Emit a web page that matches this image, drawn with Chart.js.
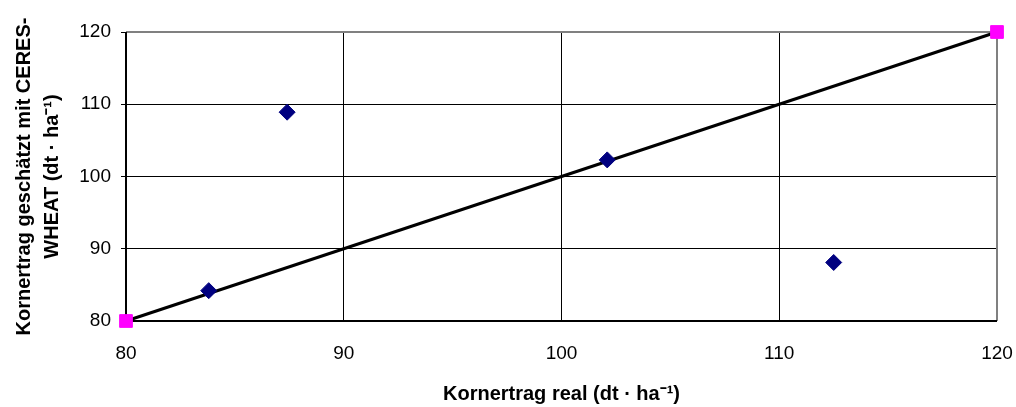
<!DOCTYPE html>
<html>
<head>
<meta charset="utf-8">
<script src="https://cdn.jsdelivr.net/npm/chart.js@4/dist/chart.umd.min.js"></script>
<style>
  html, body { margin: 0; padding: 0; background: #fff; }
  #wrap { width: 1016px; height: 407px; }
</style>
</head>
<body>
<div id="wrap"><canvas id="chart" width="1016" height="407"></canvas></div>
<script>
// Messwerte: real vs. CERES-WHEAT
const realYield = [83.8, 87.4, 102.1, 112.5];
const simYield = [84.2, 108.9, 102.3, 88.1];

// 1:1 Linie
const lineX = [80, 120];
const lineY = [80, 120];

const axisMin = 80;
const axisMax = 120;
const axisStep = 10;

const fontFamily = "'Liberation Sans', Arial, sans-serif";

// Rahmen: oben/rechts grau, links/unten schwarz
const frame = {
    id: 'frame',
    beforeDatasetsDraw(chart) {
        const { ctx, chartArea: a } = chart;
        ctx.save();
        ctx.strokeStyle = '#808080';
        ctx.lineWidth = 2;
        ctx.beginPath();
        ctx.moveTo(a.left, a.top);
        ctx.lineTo(a.right, a.top);
        ctx.lineTo(a.right, a.bottom);
        ctx.stroke();
        ctx.strokeStyle = '#000';
        ctx.beginPath();
        ctx.moveTo(a.left, a.top);
        ctx.lineTo(a.left, a.bottom);
        ctx.lineTo(a.right, a.bottom);
        ctx.stroke();
        ctx.restore();
    }
};

const gridColor = (c) => (c.tick && (c.tick.value === axisMin || c.tick.value === axisMax)) ? 'rgba(0,0,0,0)' : '#000';

new Chart(document.getElementById('chart').getContext('2d'), {
    type: 'scatter',
    data: {
        datasets: [{
            label: 'Messwerte',
            data: realYield.map((x, i) => ({ x: x, y: simYield[i] })),
            pointStyle: 'rectRot',
            pointRadius: 8,
            pointHoverRadius: 8,
            backgroundColor: '#000080',
            borderColor: '#000080',
            borderWidth: 1,
            clip: false
        }, {
            label: '1:1',
            type: 'line',
            data: lineX.map((x, i) => ({ x: x, y: lineY[i] })),
            borderColor: '#000',
            borderWidth: 3,
            pointStyle: 'rect',
            pointRadius: 9,
            pointHoverRadius: 9,
            pointBackgroundColor: '#FF00FF',
            pointBorderColor: '#FF00FF',
            pointBorderWidth: 1,
            clip: false
        }]
    },
    options: {
        responsive: false,
        animation: false,
        layout: { padding: { top: 32, right: 0, left: 0, bottom: 0 } },
        plugins: {
            legend: { display: false },
            tooltip: { enabled: false }
        },
        scales: {
            x: {
                type: 'linear',
                min: axisMin,
                max: axisMax,
                afterFit: (s) => { s.height = 86; s.paddingRight = 19; s.paddingLeft = 0; },
                ticks: {
                    stepSize: axisStep,
                    color: '#000',
                    padding: 21,
                    font: { family: fontFamily, size: 19 }
                },
                grid: { color: gridColor, lineWidth: 1, drawTicks: false },
                border: { display: false },
                title: {
                    display: true,
                    text: 'Kornertrag real (dt · ha⁻¹)',
                    color: '#000',
                    padding: { top: 0, bottom: 1 },
                    font: { family: fontFamily, size: 20, weight: 'bold', lineHeight: 1.2 }
                }
            },
            y: {
                type: 'linear',
                min: axisMin,
                max: axisMax,
                afterFit: (s) => { s.width = 126; },
                ticks: {
                    stepSize: axisStep,
                    color: '#000',
                    padding: 10,
                    font: { family: fontFamily, size: 19 }
                },
                grid: { color: gridColor, lineWidth: 1, tickLength: 5, tickColor: '#000' },
                border: { display: false },
                title: {
                    display: true,
                    text: ['Kornertrag geschätzt mit CERES-', 'WHEAT (dt · ha⁻¹)'],
                    color: '#000',
                    padding: { top: 10, bottom: 0 },
                    font: { family: fontFamily, size: 20, weight: 'bold', lineHeight: 1.4 }
                }
            }
        }
    },
    plugins: [frame]
});
</script>
</body>
</html>
